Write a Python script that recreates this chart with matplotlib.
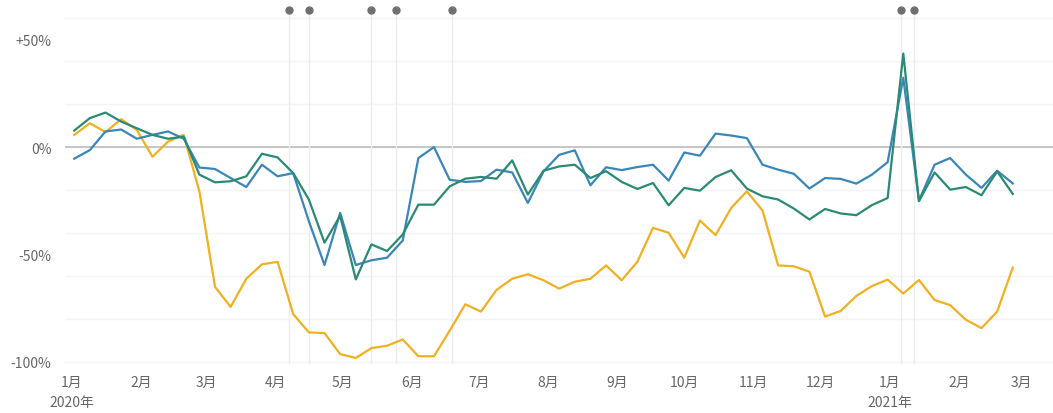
import matplotlib.pyplot as plt
import matplotlib.dates as mdates
import matplotlib.transforms as mtransforms
import pandas as pd

plt.rcParams['font.family'] = ['Noto Sans CJK JP', 'DejaVu Sans']

# semanas a partir de 2 jan 2020
datas = pd.date_range('2020-01-02', periods=61, freq='7D')

azul = [-5.4, -1.4, 7.3, 8.2, 3.9, 5.7, 7.3, 3.9, -9.5, -10.2,
        -14.4, -18.6, -8.2, -13.6, -12.1, -34.5, -54.9, -30.6, -54.9, -52.7,
        -51.5, -43.5, -5.1, 0.0, -15.2, -16.2, -15.8, -10.5, -11.8, -26.0,
        -11.3, -3.6, -1.5, -17.8, -9.4, -10.7, -9.3, -8.2, -15.6, -2.5,
        -4.0, 6.3, 5.4, 4.2, -8.2, -10.5, -12.4, -19.3, -14.4, -14.8,
        -17.0, -12.8, -7.0, 32.3, -24.9, -8.2, -5.1, -12.8, -19.0, -11.0,
        -16.9]

verde = [7.7, 13.5, 16.1, 11.9, 8.8, 5.7, 3.9, 4.9, -12.8, -16.4,
         -15.9, -13.6, -3.1, -4.8, -12.1, -24.4, -44.5, -32.0, -61.6, -45.3,
         -48.4, -40.7, -26.8, -26.8, -18.3, -14.7, -13.9, -14.7, -6.2, -22.1,
         -11.0, -9.0, -8.2, -14.4, -11.2, -16.2, -19.5, -16.7, -27.1, -19.0,
         -20.3, -13.9, -10.8, -19.3, -22.9, -24.4, -28.6, -33.7, -28.8, -30.9,
         -31.7, -27.0, -23.7, 43.6, -25.2, -11.8, -19.8, -18.6, -22.4, -11.3,
         -21.8]

amarelo = [5.7, 11.1, 7.0, 13.0, 8.0, -4.5, 2.6, 5.7, -20.6, -65.1,
           -74.4, -61.3, -54.6, -53.4, -77.8, -86.3, -86.6, -96.4, -98.2, -93.6,
           -92.5, -89.6, -97.4, -97.4, -85.5, -73.2, -76.6, -66.5, -61.3, -59.2,
           -62.0, -65.9, -62.7, -61.3, -55.1, -62.0, -53.4, -37.6, -39.9, -51.5,
           -34.2, -41.0, -28.3, -20.6, -29.5, -55.1, -55.5, -58.0, -78.9, -76.3,
           -69.3, -64.7, -61.7, -68.2, -61.9, -71.2, -73.6, -80.4, -84.3, -76.6,
           -56.1]

eventos = ['2020-04-07', '2020-04-16', '2020-05-14', '2020-05-25', '2020-06-19',
           '2021-01-06', '2021-01-12']

meses = pd.date_range('2020-01-01', '2021-03-01', freq='MS')
rotulos_y = [-100, -50, 0, 50]

fig = plt.figure(figsize=(10.53, 4.14), dpi=100)
ax = fig.add_axes([0.062, 0.1184, 0.938, 0.8454])

# grade leve
for g in range(-100, 61, 20):
    ax.axhline(g, color='#f4f4f4', linewidth=1, zorder=0)
ax.axhline(0, color='#bdbdbd', linewidth=1.2, zorder=1)

trans = mtransforms.blended_transform_factory(ax.transData, ax.transAxes)
for ev in eventos:
    d = pd.Timestamp(ev)
    ax.axvline(d, color='#ececec', linewidth=1, zorder=1)
    ax.plot([d], [1.012], 'o', color='#707070', markersize=5,
            transform=trans, clip_on=False)

ax.plot(datas, amarelo, color='#f0b020', linewidth=1.6, zorder=3)
ax.plot(datas, azul, color='#3a86b8', linewidth=1.6, zorder=4)
ax.plot(datas, verde, color='#2a8a74', linewidth=1.6, zorder=5)

ax.set_ylim(-101, 62)
ax.set_xlim(pd.Timestamp('2019-12-29'), pd.Timestamp('2021-03-15'))

ax.set_yticks(rotulos_y)
ax.set_yticklabels(['-100%', '-50%', '0%', '+50%'])

labels = []
for m in meses:
    s = f'{m.month}月'
    if m.month == 1:
        s += f'\n{m.year}年'
    labels.append(s)
ax.set_xticks(meses)
ax.set_xticklabels(labels, linespacing=1.5, va='top')

ax.tick_params(axis='both', length=0, colors='#666666', labelsize=10)
ax.tick_params(axis='y', pad=10)
ax.tick_params(axis='x', pad=8)
for s in ax.spines.values():
    s.set_visible(False)

fig.savefig('out.png', dpi=100)
